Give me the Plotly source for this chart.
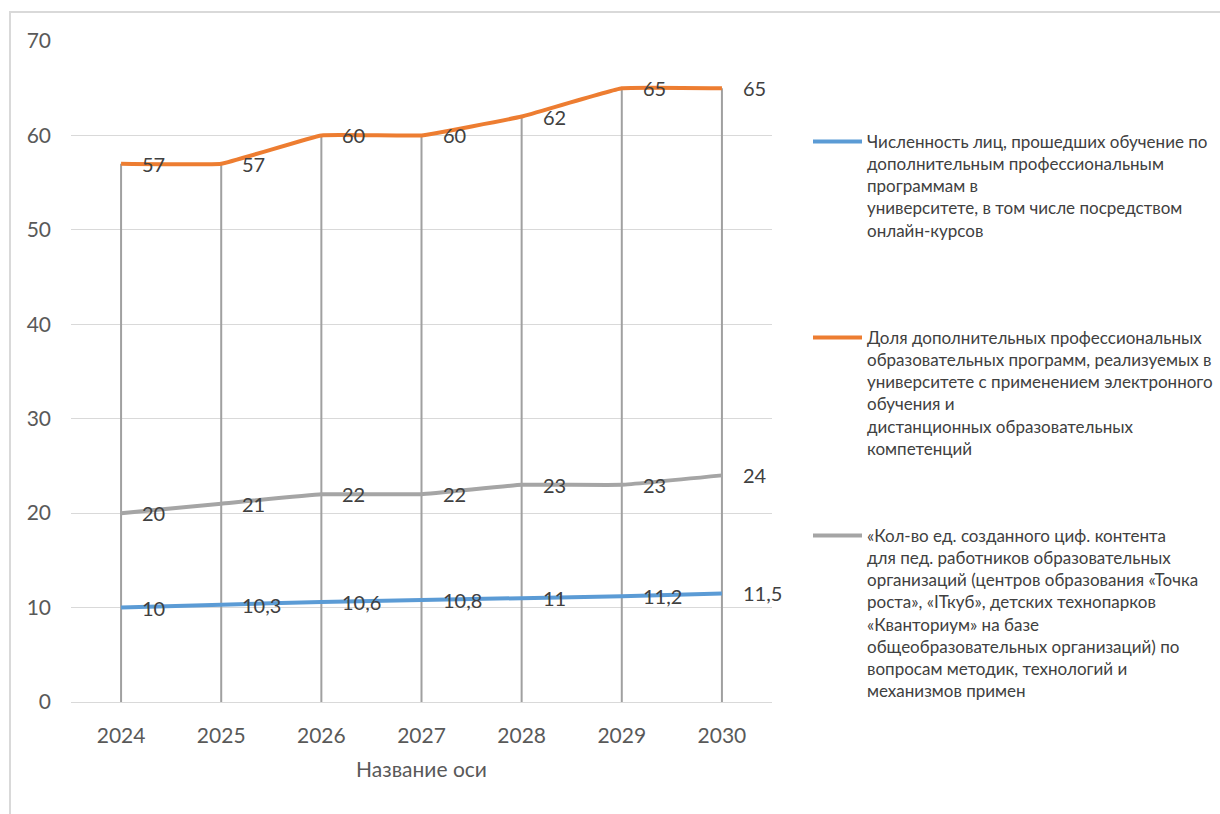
import plotly.graph_objects as go

years = ["2024", "2025", "2026", "2027", "2028", "2029", "2030"]
listeners = [10, 10.3, 10.6, 10.8, 11, 11.2, 11.5]
programs_share = [57, 57, 60, 60, 62, 65, 65]
content_units = [20, 21, 22, 22, 23, 23, 24]

name_listeners = ("Численность лиц, прошедших обучение по<br>дополнительным профессиональным<br>"
                  "программам в<br>университете, в том числе посредством<br>онлайн-курсов")
name_programs = ("Доля дополнительных профессиональных<br>образовательных программ, реализуемых в<br>"
                 "университете с применением электронного<br>обучения и<br>"
                 "дистанционных образовательных<br>компетенций")
name_content = ("«Кол-во ед. созданного циф. контента<br>для пед. работников образовательных<br>"
                "организаций (центров образования «Точка<br>роста», «IТкуб», детских технопарков<br>"
                "«Кванториум» на базе<br>общеобразовательных организаций) по<br>"
                "вопросам методик, технологий и<br>механизмов примен")

FONT = "Lato"
series = [
    (listeners, name_listeners, "#5B9BD5", "legend"),
    (programs_share, name_programs, "#ED7D31", "legend2"),
    (content_units, name_content, "#A5A5A5", "legend3"),
]

fig = go.Figure()

# drop lines: from the highest series value down to the axis at every category
top = [max(v) for v in zip(listeners, programs_share, content_units)]
dx, dy = [], []
for i, t in enumerate(top):
    dx += [i, i, None]
    dy += [0, t, None]
fig.add_trace(go.Scatter(x=dx, y=dy, mode="lines", line=dict(color="#A0A0A0", width=2),
                         showlegend=False, hoverinfo="skip"))

for vals, name, color, leg in series:
    fig.add_trace(go.Scatter(
        x=list(range(len(years))), y=vals, mode="lines", name=name, legend=leg,
        line=dict(color=color, width=4, shape="spline", smoothing=0.25),
    ))
    for i, v in enumerate(vals):
        fig.add_annotation(x=i, y=v, text=f"{v:g}".replace(".", ","), showarrow=False,
                           xanchor="left", yanchor="middle", xshift=19,
                           font=dict(family=FONT, size=20, color="#404040"))

L, R, T, B = 71, 448, 41, 112
W, H = 1220, 814
pw, ph = W - L - R, H - T - B


def px(x):
    return (x - L) / pw


def py(y):
    return (H - B - y) / ph


legend_common = dict(font=dict(family=FONT, size=17, color="#404040"), xanchor="left",
                     yanchor="top", valign="top", bgcolor="rgba(0,0,0,0)", itemwidth=49,
                     tracegroupgap=0)

fig.update_layout(
    width=W, height=H,
    margin=dict(l=L, r=R, t=T, b=B, autoexpand=False),
    paper_bgcolor="white", plot_bgcolor="white",
    font=dict(family=FONT, color="#595959"),
    xaxis=dict(range=[-0.5, 6.5], tickmode="array", tickvals=list(range(len(years))),
               ticktext=years, showgrid=False, zeroline=False, showline=True,
               linecolor="#D9D9D9", linewidth=1, ticks="", ticklabelstandoff=15,
               tickfont=dict(family=FONT, size=21, color="#595959"),
               title=dict(text="Название оси", font=dict(family=FONT, size=21, color="#595959"),
                          standoff=16)),
    yaxis=dict(range=[0, 70], dtick=10, showgrid=True, gridcolor="#D9D9D9", gridwidth=1,
               zeroline=False, showline=False, ticks="", ticklabelstandoff=19,
               tickfont=dict(family=FONT, size=21, color="#595959")),
    legend=dict(x=px(808), y=py(124), **legend_common),
    legend2=dict(x=px(808), y=py(320), **legend_common),
    legend3=dict(x=px(808), y=py(518), **legend_common),
    shapes=[dict(type="path", xref="paper", yref="paper",
                 path=f"M {px(10)},{py(H + 20)} L {px(10)},{py(12)} L {px(W + 20)},{py(12)}",
                 line=dict(color="#D9D9D9", width=2))],
)

fig.write_html("out.html")
